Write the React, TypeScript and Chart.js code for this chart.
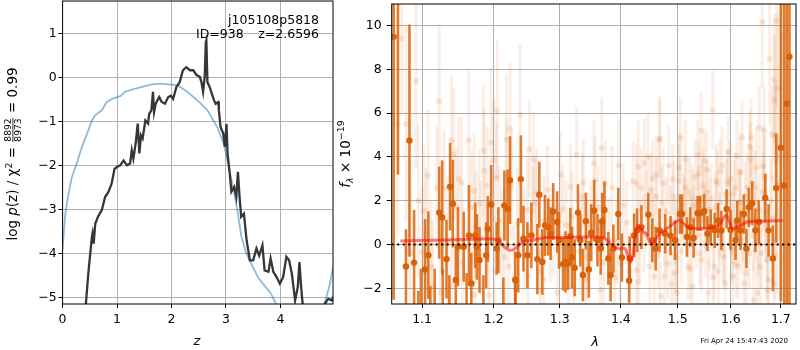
import React, { useEffect, useRef } from 'react';
import { Chart, registerables } from 'chart.js';
Chart.register(...registerables);

const FONT = '"DejaVu Sans", sans-serif';

// ---------- Left panel: log p(z) ----------
const zTicks = [0, 1, 2, 3, 4];
const logpTicks = [-5, -4, -3, -2, -1, 0, 1];

const zBlack = [0.40, 0.428, 0.477, 0.538, 0.55, 0.57, 0.60, 0.65, 0.72, 0.78,
  0.84, 0.90, 0.954, 0.997, 1.058, 1.12, 1.18, 1.24, 1.27, 1.30,
  1.345, 1.38, 1.41, 1.44, 1.47, 1.52, 1.57, 1.59, 1.63, 1.66,
  1.68, 1.71, 1.775, 1.82, 1.88, 1.94, 1.99, 2.03, 2.09, 2.15,
  2.21, 2.27, 2.34, 2.40, 2.46, 2.52, 2.55, 2.58, 2.61, 2.63,
  2.64, 2.66, 2.70, 2.73, 2.78, 2.81, 2.86, 2.87, 2.90, 2.95,
  2.98, 3.01, 3.03, 3.07, 3.10, 3.15, 3.19, 3.22, 3.25, 3.28,
  3.33, 3.38, 3.44, 3.50, 3.56, 3.61, 3.67, 3.71, 3.78, 3.82,
  3.87, 3.93, 3.99, 4.05, 4.11, 4.16, 4.21, 4.27, 4.32, 4.35,
  4.38, 4.42, 4.50, 4.75, 4.82, 4.88, 4.94, 4.99];
const logpBlack = [-5.6, -5.14, -4.39, -3.63, -3.55, -3.78, -3.33, -3.17, -3.02, -2.72,
  -2.61, -2.42, -2.08, -2.04, -2.00, -1.89, -2.00, -1.96, -1.66, -1.85,
  -1.47, -1.05, -1.73, -1.32, -1.39, -0.98, -1.05, -0.83, -0.75, -0.33,
  -0.79, -0.60, -0.45, -0.56, -0.60, -0.45, -0.42, -0.49, -0.22, -0.11,
  0.16, 0.23, 0.16, 0.16, 0.05, 0.01, -0.11, -0.33, 0.01, 0.80,
  0.84, -0.11, -0.22, -0.33, -0.52, -0.60, -0.56, -0.75, -1.13, -1.28,
  -1.58, -1.06, -1.74, -2.19, -2.60, -2.49, -2.72, -2.15, -2.72, -3.17,
  -3.10, -3.71, -4.16, -4.16, -3.89, -4.05, -3.82, -4.39, -4.42, -4.12,
  -4.42, -4.54, -4.69, -4.54, -4.08, -4.16, -4.46, -5.07, -4.76, -4.20,
  -4.76, -5.3, -5.9, -5.9, -5.14, -5.03, -5.07, -4.95];

const zBlue = [0.0, 0.05, 0.11, 0.17, 0.26, 0.355, 0.45, 0.54, 0.60, 0.72,
  0.81, 0.93, 1.06, 1.15, 1.27, 1.46, 1.64, 1.82, 1.94, 2.11,
  2.29, 2.45, 2.54, 2.66, 2.84, 2.97, 3.05, 3.14, 3.22, 3.28,
  3.36, 3.45, 3.59, 3.72, 3.82, 3.92, 4.05, 4.40, 4.70, 4.81,
  4.90, 4.97];
const logpBlue = [-3.9, -3.1, -2.64, -2.27, -1.96, -1.58, -1.28, -0.98, -0.86, -0.75,
  -0.56, -0.48, -0.43, -0.33, -0.28, -0.22, -0.16, -0.145, -0.16, -0.18,
  -0.33, -0.50, -0.60, -0.75, -1.13, -1.55, -2.04, -2.55, -3.1, -3.6,
  -3.95, -4.2, -4.55, -4.75, -4.9, -5.15, -5.5, -6.2, -5.8, -5.14,
  -4.75, -4.3];

// ---------- Right panel: spectrum ----------
const lamTicks = [1.1, 1.2, 1.3, 1.4, 1.5, 1.6, 1.7];
const fluxTicks = [-2, 0, 2, 4, 6, 8, 10];

const lamFaint = [
  1.073, 1.092, 1.079, 1.123, 1.140, 1.143, 1.164, 1.185, 1.196, 1.205,
  1.200, 1.219, 1.224, 1.239, 1.108, 1.150, 1.154, 1.172, 1.186, 1.190,
  1.204, 1.218, 1.226, 1.102, 1.120, 1.130, 1.179, 1.168, 1.112, 1.100,
  1.084, 1.125, 1.114, 1.140, 1.172, 1.193, 1.216, 1.222, 1.235, 1.250,
  1.251, 1.174, 1.208, 1.147, 1.068, 1.095, 1.105, 1.135, 1.155, 1.181,
  1.201, 1.212, 1.230, 1.245,
  1.253, 1.259, 1.327, 1.368, 1.355, 1.357, 1.317, 1.338, 1.374, 1.396,
  1.430, 1.441, 1.447, 1.467, 1.427, 1.435, 1.264, 1.258, 1.305, 1.276,
  1.427, 1.450, 1.458, 1.430, 1.322, 1.296, 1.366, 1.275, 1.270, 1.344,
  1.399, 1.285, 1.310, 1.345, 1.380, 1.410, 1.440, 1.462, 1.390, 1.332,
  1.662, 1.691, 1.704, 1.677, 1.686, 1.693, 1.687, 1.468, 1.505, 1.543,
  1.565, 1.537, 1.595, 1.612, 1.622, 1.640, 1.637, 1.656, 1.666, 1.682,
  1.689, 1.664, 1.638, 1.648, 1.539, 1.549, 1.574, 1.579, 1.491, 1.503,
  1.515, 1.525, 1.545, 1.555, 1.593, 1.606, 1.619, 1.632, 1.482, 1.497,
  1.519, 1.541, 1.568, 1.587, 1.614, 1.636, 1.658, 1.671, 1.476, 1.494,
  1.527, 1.557, 1.576, 1.604, 1.626, 1.652, 1.673, 1.686, 1.469, 1.499,
  1.589, 1.645, 1.480, 1.510, 1.530, 1.560, 1.580, 1.600, 1.620, 1.647,
  1.668, 1.692, 1.500, 1.552, 1.602, 1.654,
  1.262, 1.268, 1.281, 1.290, 1.301, 1.314, 1.320, 1.336, 1.341, 1.350,
  1.362, 1.371, 1.385, 1.393, 1.404, 1.415, 1.421, 1.433, 1.444, 1.455,
  1.452, 1.456, 1.461, 1.465, 1.471, 1.474, 1.478, 1.484, 1.487, 1.489,
  1.493, 1.496, 1.502, 1.507, 1.512, 1.514, 1.517, 1.521, 1.523, 1.528,
  1.532, 1.534, 1.538, 1.544, 1.547, 1.551, 1.554, 1.558, 1.562, 1.566,
  1.570, 1.572, 1.578, 1.583, 1.585, 1.591, 1.597, 1.599, 1.604, 1.608,
  1.610, 1.616, 1.618, 1.624, 1.628, 1.630, 1.634, 1.642, 1.644, 1.650,
  1.656, 1.660, 1.663, 1.667, 1.670, 1.675, 1.679, 1.683, 1.688, 1.695];
const fluxFaint = [
  9.4, 7.47, 5.5, 6.54, 4.75, 4.12, 4.75, 4.3, 4.66, 6.11,
  3.85, 4.8, 5.3, 5.93, 3.14, 2.99, 2.84, 2.46, 3.37, 2.69,
  3.06, 3.14, 2.73, 1.55, 2.6, 2.57, 1.86, 1.7, -1.0, -0.33,
  -0.4, -2.2, -1.9, -1.85, -2.3, -2.3, -0.56, -1.0, 0.98, 1.58,
  -1.46, 0.8, 1.1, 1.7, 5.5, 2.0, 0.5, 0.2, -0.8, 0.3,
  -1.2, 0.0, -1.5, 0.3,
  4.35, 3.9, 4.1, 4.42, 3.7, 2.94, 2.64, 2.82, 2.79, 3.6,
  3.58, 3.73, 4.0, 4.8, 2.79, 2.6, 2.34, 1.55, 1.63, 1.1,
  -1.16, -1.0, -1.46, -1.7, -1.92, -2.2, -2.07, -1.6, -1.24, -0.56,
  -0.86, 0.3, 0.9, 0.4, 0.2, 1.0, 0.5, 2.2, -1.5, -0.3,
  10.16, 10.2, 9.58, 8.47, 7.52, 7.14, 6.61, 4.83, 4.88, 5.18,
  6.13, 4.09, 4.24, 4.05, 4.88, 4.88, 4.47, 5.33, 5.21, 5.03,
  4.95, 3.59, 3.89, 2.61, 3.25, 3.82, 2.79, 3.34, 2.99, 3.52,
  2.61, 2.16, 2.16, 2.39, 2.84, 2.31, 1.93, 2.61, -0.86, -0.56,
  -1.0, -0.4, -1.0, -0.56, -1.0, -0.4, -1.0, -0.7, -1.46, -1.3,
  -1.92, -2.2, -1.2, -1.46, -1.77, -2.2, -2.07, -1.77, -2.37, -2.2,
  -1.77, -2.52, 1.5, 1.8, 1.2, 1.6, 0.5, 1.0, 0.2, 0.8,
  1.5, 0.3, 0.2, 0.0, -0.2, 0.1,
  1.9, -0.4, 2.5, 0.6, 3.2, -1.0, 1.3, 2.2, -1.6, 0.9,
  1.7, -0.8, 2.6, 0.1, 1.8, -1.2, 2.9, 0.2, 1.6, 3.0,
  2.5, 0.8, 3.2, -0.5, 1.9, 2.8, 0.2, 3.6, 1.1, -1.8,
  2.2, 0.6, 2.9, -0.3, 1.5, 3.9, 0.9, 2.4, -1.1, 1.8,
  3.1, 0.4, 2.0, -0.7, 2.7, 1.2, 3.4, 0.3, 2.1, -1.5,
  1.7, 2.9, 0.9, 3.6, -0.2, 2.3, 1.4, 3.0, 0.6, 2.6,
  -0.9, 1.9, 3.3, 0.7, 2.2, -1.3, 1.0, 2.8, 0.4, 3.5,
  1.6, -0.4, 2.4, 3.1, 0.9, -1.6, 2.0, 1.2, -0.5, 2.7];
const errFaint = [
  3.5, 4, 4.5, 3.5, 3, 3, 3.2, 3, 3.4, 3.2,
  2.8, 3, 3, 3.2, 3, 2.8, 3, 2.6, 2.8, 2.7,
  2.5, 2.6, 2.5, 3, 2.8, 2.7, 2.5, 2.6, 3, 3,
  3.5, 3, 3, 2.8, 2.7, 2.6, 2.5, 2.5, 2.5, 2.4,
  2.4, 2.6, 2.5, 2.7, 5, 3.5, 3, 3, 2.8, 2.6,
  2.5, 2.5, 2.4, 2.4,
  2.2, 2.2, 2.2, 2.3, 2, 2, 2, 2, 2, 2.1,
  2.1, 2, 2, 2, 1.8, 1.8, 2, 2, 2, 2,
  1.8, 1.8, 1.8, 1.8, 2, 2, 2, 2, 2, 2,
  1.9, 2, 2, 2, 1.9, 1.9, 1.8, 1.8, 1.9, 2,
  3, 4, 5, 3, 3, 3.5, 3, 1.8, 1.8, 1.8,
  1.8, 1.6, 1.6, 1.6, 1.7, 1.8, 1.7, 1.9, 2, 2.2,
  2.5, 1.8, 1.7, 1.7, 1.5, 1.5, 1.5, 1.5, 1.6, 1.6,
  1.5, 1.5, 1.5, 1.5, 1.5, 1.5, 1.5, 1.6, 1.6, 1.6,
  1.5, 1.5, 1.5, 1.5, 1.5, 1.6, 1.7, 1.8, 1.6, 1.6,
  1.5, 1.5, 1.5, 1.5, 1.6, 1.7, 1.8, 2, 1.6, 1.6,
  1.5, 1.7, 1.6, 1.5, 1.5, 1.5, 1.5, 1.5, 1.5, 1.6,
  1.8, 2.5, 1.5, 1.5, 1.5, 1.6,
  2, 2, 2, 2, 2, 2, 2, 2, 2, 2,
  1.9, 1.9, 1.9, 1.9, 1.9, 1.8, 1.8, 1.8, 1.8, 1.8,
  1.7, 1.6, 1.8, 1.5, 1.7, 1.6, 1.5, 1.8, 1.6, 1.5,
  1.6, 1.5, 1.7, 1.5, 1.6, 1.8, 1.5, 1.6, 1.5, 1.6,
  1.7, 1.5, 1.6, 1.5, 1.7, 1.5, 1.8, 1.5, 1.6, 1.5,
  1.6, 1.7, 1.5, 1.8, 1.5, 1.6, 1.5, 1.7, 1.5, 1.6,
  1.5, 1.6, 1.8, 1.5, 1.6, 1.6, 1.5, 1.7, 1.6, 1.9,
  1.7, 1.6, 1.8, 1.9, 1.7, 1.8, 1.9, 2.0, 2.0, 2.3];

const lamBold = [
  1.0627, 1.0683, 1.0787, 1.0833, 1.0894, 1.095, 1.1040, 1.1084, 1.111, 1.1231,
  1.1272, 1.1331, 1.1381, 1.1418, 1.1459, 1.1490, 1.1570, 1.1644, 1.1677, 1.1733,
  1.1756, 1.1794, 1.1890, 1.1913, 1.1962, 1.2043, 1.2067, 1.2155, 1.2203, 1.2239,
  1.2317, 1.2361, 1.2401, 1.2440, 1.2500,
  1.2560, 1.2651, 1.2682, 1.2728, 1.2769, 1.2820, 1.2857, 1.2897, 1.2959, 1.2990,
  1.3053, 1.3091, 1.3132, 1.3169, 1.3195, 1.3238, 1.3291, 1.3329, 1.3371, 1.3419,
  1.3467, 1.3506, 1.3555, 1.3609, 1.3663, 1.3686, 1.3724, 1.3790, 1.3828, 1.3874,
  1.3957, 1.4018, 1.4142, 1.4153, 1.4228, 1.4280, 1.4354, 1.4475, 1.4545, 1.4605,
  1.4674,
  1.4774, 1.4871, 1.4953, 1.5043, 1.5079, 1.5170, 1.5232, 1.5293, 1.5367, 1.5416,
  1.5491, 1.5552, 1.5614, 1.5689, 1.5754, 1.5817, 1.5918, 1.5994, 1.6092, 1.6124,
  1.6189, 1.6255, 1.6305, 1.6353, 1.6418, 1.6483, 1.6550, 1.6682, 1.6750, 1.6837,
  1.6905, 1.7000, 1.7069, 1.7123, 1.7179,
  1.0985, 1.117, 1.128, 1.137, 1.161, 1.185, 1.214, 1.232];
const fluxBold = [
  9.48, 12.0, -1.0, 4.75, -0.82, -3.4, -1.13, -0.48, -3.2, 1.46,
  1.24, -0.66, 2.64, 1.87, -1.61, -0.10, -0.10, 0.42, -1.77, 0.42,
  -0.10, -0.70, -0.48, 0.72, 1.83, -0.18, 0.20, 1.78, 1.63, 2.94,
  -1.61, -0.48, 2.99, 0.27, -0.48,
  0.42, -0.66, 2.28, -0.79, 0.88, 0.80, 0.50, 1.51, 1.03, 0.20,
  -0.89, -0.79, -0.86, 0.38, -0.59, -1.06, 1.46, 0.20, -1.39, 1.07,
  -1.13, 0.54, 1.55, 0.20, -0.18, 1.07, 1.58, -0.63, -1.39, -0.18,
  1.40, -0.59, -1.65, -0.63, 0.42, 0.65, 0.80, 1.37, 0.20, -0.18,
  0.65,
  0.50, 0.41, 0.20, 1.40, 1.40, 0.35, 0.80, 0.30, 1.43, 1.43,
  1.52, 0.50, 0.80, 0.65, 1.10, 0.65, 1.63, 0.68, 0.20, 1.10,
  0.65, 1.40, -0.18, 1.70, 1.89, 0.65, 1.03, 2.13, 0.65, -0.63,
  2.58, 4.42, 2.69, 6.43, 8.57,
  -3.1, -3.0, -3.1, -3.0, -3.0, -3.1, -3.0, -3.2];
const errBold = [
  12, 8.8, 1.7, 5.3, 2.4, 1.3, 2.3, 2.0, 1.3, 2.1,
  2.6, 1.8, 2.0, 2.0, 1.5, 1.8, 1.6, 2.3, 1.4, 1.5,
  1.5, 1.5, 1.5, 1.5, 1.8, 1.2, 1.5, 1.6, 1.8, 2.0,
  1.3, 1.7, 2.0, 1.5, 1.5,
  1.5, 1.6, 1.5, 1.5, 1.4, 1.3, 1.2, 1.3, 1.4, 1.3,
  1.2, 1.4, 1.2, 1.3, 1.4, 1.3, 1.3, 1.2, 1.2, 1.3,
  1.3, 1.3, 1.4, 1.2, 1.2, 1.3, 1.3, 1.2, 1.2, 1.1,
  1.2, 1.1, 1.0, 1.0, 1.0, 1.0, 1.0, 1.0, 1.0, 1.0,
  1.0,
  0.9, 0.9, 0.9, 0.9, 0.9, 0.9, 0.9, 0.9, 0.8, 0.8,
  0.8, 0.8, 0.8, 0.8, 0.8, 0.9, 0.9, 0.9, 0.9, 0.9,
  0.9, 0.9, 0.9, 0.9, 1.0, 1.0, 1.0, 1.1, 1.2, 1.5,
  2.5, 7, 10, 12, 12,
  2.0, 1.9, 2.0, 1.6, 1.7, 1.7, 1.5, 1.5];

const lamModel = [1.0713, 1.1106, 1.1560, 1.1937, 1.2034, 1.2106, 1.2179, 1.2268, 1.2350, 1.2425,
  1.2627, 1.2780, 1.3037, 1.3355, 1.3572, 1.3736, 1.3845, 1.3957, 1.4070, 1.4126,
  1.4172, 1.4211, 1.4251, 1.4297, 1.4383, 1.4440, 1.4500, 1.4557, 1.4645, 1.4763,
  1.4881, 1.5002, 1.5061, 1.5183, 1.5306, 1.5491, 1.5678, 1.5803, 1.5868, 1.5918,
  1.5964, 1.6027, 1.6124, 1.6319, 1.6582, 1.7041];
const fluxModel = [0.17, 0.2, 0.23, 0.27, 0.23, 0.05, -0.18, -0.26, -0.08, 0.12,
  0.23, 0.32, 0.32, 0.35, 0.35, 0.27, -0.03, -0.18, -0.18, -0.56,
  -0.79, -0.41, 0.5, 0.88, 0.58, 0.5, 0.12, 0.05, 0.42, 0.65,
  0.88, 1.1, 1.07, 0.8, 0.73, 0.73, 0.8, 0.95, 1.26, 1.33,
  1.1, 0.73, 0.8, 1.03, 1.07, 1.1];

// ---------- helpers ----------
const zip = (xs: number[], ys: number[]) => xs.map((x, i) => ({ x, y: ys[i] }));
const fmt = (v: any) => String(Math.round(Number(v) * 100) / 100).replace('-', '\u2212');

type Part = { t?: string; size: number; italic?: boolean; dy?: number; frac?: [string, string] };
const fontStr = (p: Part) => `${p.italic ? 'italic ' : ''}${p.size}px ${FONT}`;

function drawRich(ctx: CanvasRenderingContext2D, parts: Part[], cx: number, cy: number, rot: number, base: number) {
  ctx.save();
  ctx.translate(cx, cy);
  ctx.rotate(rot);
  ctx.textAlign = 'left';
  ctx.textBaseline = 'alphabetic';
  ctx.fillStyle = '#000';
  const widths = parts.map((p) => {
    ctx.font = fontStr(p);
    if (p.frac) return Math.max(ctx.measureText(p.frac[0]).width, ctx.measureText(p.frac[1]).width) + 2;
    return ctx.measureText(p.t || '').width;
  });
  const total = widths.reduce((a, b) => a + b, 0);
  let x = -total / 2;
  const by = base * 0.35;
  parts.forEach((p, i) => {
    ctx.font = fontStr(p);
    if (p.frac) {
      const w = widths[i];
      const n = ctx.measureText(p.frac[0]).width;
      const d = ctx.measureText(p.frac[1]).width;
      const bar = by - base * 0.32;
      ctx.fillText(p.frac[0], x + (w - n) / 2, bar - 1.6);
      ctx.fillText(p.frac[1], x + (w - d) / 2, bar + 1.6 + p.size * 0.73);
      ctx.fillRect(x + 0.5, bar - 0.4, w - 1, 0.8);
    } else {
      ctx.fillText(p.t || '', x, by + (p.dy || 0));
    }
    x += widths[i];
  });
  ctx.restore();
}

const framePlugin = {
  id: 'frame',
  afterDatasetsDraw(chart: any) {
    const { ctx, chartArea: a } = chart;
    ctx.save();
    ctx.strokeStyle = '#000';
    ctx.lineWidth = 1;
    ctx.strokeRect(a.left, a.top, a.right - a.left, a.bottom - a.top);
    ctx.restore();
  },
};

const errorBarPlugin = {
  id: 'errbars',
  beforeDatasetDraw(chart: any, args: any) {
    const ds = chart.data.datasets[args.index];
    if (!ds.errs) return;
    const { ctx, chartArea: a, scales } = chart;
    ctx.save();
    ctx.beginPath();
    ctx.rect(a.left, a.top, a.right - a.left, a.bottom - a.top);
    ctx.clip();
    ctx.strokeStyle = ds.errColor;
    ctx.lineWidth = ds.errWidth;
    ctx.lineCap = 'butt';
    ds.data.forEach((p: any, i: number) => {
      const e = ds.errs[i];
      const x = scales.x.getPixelForValue(p.x);
      ctx.beginPath();
      ctx.moveTo(x, scales.y.getPixelForValue(p.y - e));
      ctx.lineTo(x, scales.y.getPixelForValue(p.y + e));
      ctx.stroke();
    });
    ctx.restore();
  },
};

const leftText = {
  id: 'leftText',
  afterDraw(chart: any) {
    const ctx = chart.ctx as CanvasRenderingContext2D;
    ctx.save();
    ctx.fillStyle = '#000';
    ctx.font = `12.5px ${FONT}`;
    ctx.textAlign = 'right';
    ctx.textBaseline = 'alphabetic';
    ctx.fillText('j105108p5818', 319, 23.5);
    ctx.fillText('z=2.6596', 319, 38);
    ctx.textAlign = 'left';
    ctx.fillText('ID=938', 196, 38);
    ctx.textAlign = 'center';
    ctx.font = `italic 13px ${FONT}`;
    ctx.fillText('z', 197, 345);
    ctx.restore();
    const s = 13.5;
    drawRich(ctx, [
      { t: 'log ', size: s },
      { t: 'p', size: s, italic: true },
      { t: '(z) / \u03c7', size: s },
      { t: '2', size: s * 0.7, dy: -s * 0.4 },
      { t: ' = ', size: s },
      { frac: ['8892', '8973'], size: s * 0.68 },
      { t: ' = 0.99', size: s },
    ], 12.5, 154, -Math.PI / 2, s);
  },
};

const rightText = {
  id: 'rightText',
  afterDraw(chart: any) {
    const ctx = chart.ctx as CanvasRenderingContext2D;
    ctx.save();
    ctx.fillStyle = '#000';
    ctx.textAlign = 'center';
    ctx.textBaseline = 'alphabetic';
    ctx.font = `italic 13px ${FONT}`;
    ctx.fillText('\u03bb', 259, 346);
    ctx.font = `7px ${FONT}`;
    ctx.textAlign = 'right';
    ctx.fillText('Fri Apr 24 15:47:43 2020', 452, 343);
    ctx.restore();
    const s = 13.5;
    drawRich(ctx, [
      { t: 'f', size: s, italic: true },
      { t: '\u03bb', size: s * 0.7, italic: true, dy: s * 0.25 },
      { t: ' \u00d7 10', size: s },
      { t: '\u221219', size: s * 0.7, dy: -s * 0.45 },
    ], 9, 154, -Math.PI / 2, s);
  },
};

function axis(ticksArr: number[], tickLength: number, padding: number, fitKey: 'width' | 'height', fitVal: number) {
  return {
    afterBuildTicks: (sc: any) => { sc.ticks = ticksArr.map((v) => ({ value: v })); },
    afterFit: (sc: any) => {
      sc[fitKey] = fitVal;
      sc.paddingTop = 0; sc.paddingBottom = 0; sc.paddingLeft = 0; sc.paddingRight = 0;
    },
    grid: { color: '#b0b0b0', lineWidth: 1, tickColor: '#000', tickLength, drawTicks: true },
    border: { display: false },
    ticks: { color: '#000', font: { family: FONT, size: 12.5 }, padding, maxRotation: 0, autoSkip: false, callback: fmt },
  };
}

export default function App() {
  const leftRef = useRef<HTMLCanvasElement>(null);
  const rightRef = useRef<HTMLCanvasElement>(null);

  useEffect(() => {
    const left = new Chart(leftRef.current!, {
      type: 'scatter',
      data: {
        datasets: [
          { data: zip(zBlack, logpBlack), showLine: true, borderColor: '#363636', borderWidth: 2.3, pointRadius: 0, tension: 0, clip: 0 } as any,
          { data: zip(zBlue, logpBlue), showLine: true, borderColor: 'rgba(31,119,180,0.5)', borderWidth: 1.8, pointRadius: 0, tension: 0, clip: 0 } as any,
        ],
      },
      options: {
        animation: false,
        responsive: true,
        maintainAspectRatio: false,
        events: [],
        layout: { padding: { top: 1, right: 3, left: 0, bottom: 0 } },
        plugins: { legend: { display: false }, tooltip: { enabled: false } },
        scales: {
          x: { type: 'linear', min: 0, max: 4.966, ...axis(zTicks, 4, 4, 'height', 46) } as any,
          y: { type: 'linear', min: -5.152, max: 1.734, ...axis(logpTicks, 4, 2, 'width', 62.6) } as any,
        },
      },
      plugins: [framePlugin, leftText],
    });

    const right = new Chart(rightRef.current!, {
      type: 'scatter',
      data: {
        datasets: [
          { data: [{ x: 1.0602, y: 0 }, { x: 1.7316, y: 0 }], showLine: true, borderColor: '#000', borderWidth: 2, borderDash: [2, 3.5], pointRadius: 0, clip: 0 } as any,
          { data: zip(lamModel, fluxModel), showLine: true, borderColor: 'rgba(255,0,0,0.5)', borderWidth: 3, pointRadius: 0, tension: 0.3, clip: 0 } as any,
          { data: zip(lamBold, fluxBold), errs: errBold, errColor: 'rgba(220,100,10,0.85)', errWidth: 2.6, pointRadius: 3.2, pointBackgroundColor: '#d8620a', pointBorderWidth: 0, clip: 0 } as any,
          { data: zip(lamFaint, fluxFaint), errs: errFaint, errColor: 'rgba(217,95,2,0.1)', errWidth: 3, pointRadius: 3, pointBackgroundColor: 'rgba(217,95,2,0.14)', pointBorderWidth: 0, clip: 0 } as any,
        ],
      },
      options: {
        animation: false,
        responsive: true,
        maintainAspectRatio: false,
        events: [],
        layout: { padding: { top: 1, right: 0.7, left: 0, bottom: 0 } },
        plugins: { legend: { display: false }, tooltip: { enabled: false } },
        scales: {
          x: { type: 'logarithmic', min: 1.0602, max: 1.7316, ...axis(lamTicks, 4, 4, 'height', 46) } as any,
          y: { type: 'linear', min: -2.71, max: 10.98, ...axis(fluxTicks, 5, 5, 'width', 55.7) } as any,
        },
      },
      plugins: [framePlugin, errorBarPlugin, rightText],
    });

    return () => { left.destroy(); right.destroy(); };
  }, []);

  return (
    <div style={{ position: 'fixed', left: 0, top: 0, width: 800, height: 350, background: '#fff' }}>
      <div style={{ position: 'absolute', left: 0, top: 0, width: 336, height: 350 }}>
        <canvas ref={leftRef} />
      </div>
      <div style={{ position: 'absolute', left: 336, top: 0, width: 464, height: 350 }}>
        <canvas ref={rightRef} />
      </div>
    </div>
  );
}
